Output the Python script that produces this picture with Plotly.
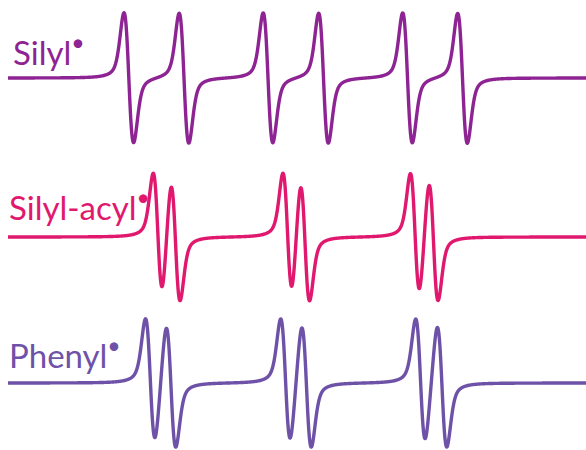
import numpy as np
import plotly.graph_objects as go

# Line positions (field, arbitrary units)
silyl_centers = [128.8, 184.0, 268.0, 323.5, 407.5, 462.5]
silyl_amp = [65, 65, 65, 65, 65, 65]
silyl_halfpp = 4.8

acyl_centers = [157.8, 175.5, 287.5, 305.0, 415.0, 433.5]
acyl_amp = [61, 61, 61, 61, 61, 61]
acyl_halfpp = 4.6

phenyl_centers = [150.3, 171.0, 285.5, 306.5, 420.5, 442.0]
phenyl_amp = [62, 62, 62, 62, 62, 62]
phenyl_halfpp = 4.8

labels = ["Silyl", "Silyl-acyl", "Phenyl"]
radical_mark = "•"
colors = ["#8E2493", "#E0186E", "#6E52A8"]
baselines = [78, 237, 383]
eta = 0.4  # Lorentzian fraction of the line shape

field = np.arange(8.0, 586.01, 0.1)


def deriv_line(x, c, amp, hpp):
    # first-derivative pseudo-Voigt, normalized to unit peak height
    g = hpp
    ug = (x - c) / g
    gauss = -ug * np.exp(-0.5 * ug ** 2) / np.exp(-0.5)
    gl = hpp * np.sqrt(3)
    ul = (x - c) / gl
    lor = -ul / (1 + ul ** 2) ** 2 / ((1 / np.sqrt(3)) / (4 / 3) ** 2)
    return amp * (eta * lor + (1 - eta) * gauss)


def spectrum(centers, amps, hpp):
    s = np.zeros_like(field)
    for c, a in zip(centers, amps):
        s += deriv_line(field, c, a, hpp)
    return s


specs = [
    spectrum(silyl_centers, silyl_amp, silyl_halfpp),
    spectrum(acyl_centers, acyl_amp, acyl_halfpp),
    spectrum(phenyl_centers, phenyl_amp, phenyl_halfpp),
]

fig = go.Figure()
for s, col, base in zip(specs, colors, baselines):
    fig.add_trace(go.Scatter(x=field, y=base - s, mode="lines",
                             line=dict(color=col, width=3.4, shape="spline", smoothing=0.6),
                             hoverinfo="skip", showlegend=False))

text_pos = [(11, 67), (7, 222), (7, 370)]
fsize = 33
for lab, col, (tx, ty) in zip(labels, colors, text_pos):
    fig.add_annotation(x=tx, y=ty + 0.22 * fsize, xref="x", yref="y",
                       text=lab + "<sup>" + radical_mark + "</sup>", showarrow=False,
                       xanchor="left", yanchor="bottom",
                       font=dict(family="Lato", size=fsize, color=col))

fig.update_layout(
    width=586, height=450,
    margin=dict(l=0, r=0, t=0, b=0),
    paper_bgcolor="white", plot_bgcolor="white",
    xaxis=dict(range=[0, 586], visible=False, fixedrange=True),
    yaxis=dict(range=[450, 0], visible=False, fixedrange=True),
)

fig.write_html("out.html", config={"displayModeBar": False},
               post_script="document.body.style.margin='0';document.body.style.padding='0';")
